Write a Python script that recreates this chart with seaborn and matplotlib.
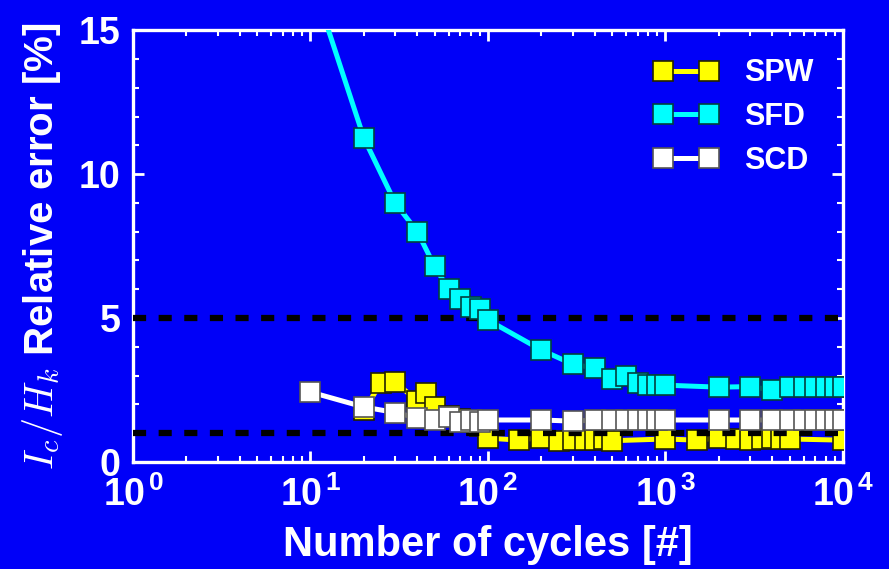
import numpy as np
import pandas as pd
import matplotlib
matplotlib.use("Agg")
import matplotlib.pyplot as plt
import seaborn as sns
from matplotlib.ticker import FuncFormatter, LogLocator, MultipleLocator, NullFormatter

# ---------------- data ----------------
spw_x = [20, 25, 30, 40, 45, 50, 60, 70, 80, 90,
         100, 150, 200, 250, 300, 350, 400, 450, 500,
         1000, 1500, 2000, 2500, 3000, 3500, 4000, 4500, 5000, 10000]
spw_y = [1.80, 2.75, 2.78, 2.12, 2.40, 1.90, 1.60, 1.50, 1.40, 1.25,
         0.83, 0.76, 0.85, 0.74, 0.78, 0.76, 0.76, 0.80, 0.74,
         0.80, 0.76, 0.83, 0.80, 0.78, 0.80, 0.85, 0.80, 0.80, 0.76]

sfd_x = [10, 20, 30, 40, 50, 60, 70, 80, 90, 100,
         200, 300, 400, 500, 600, 700, 800, 900, 1000,
         2000, 3000, 4000, 5000, 6000, 7000, 8000, 9000, 10000]
sfd_y = [16.9, 11.25, 9.0, 8.0, 6.8, 6.0, 5.66, 5.4, 5.3, 4.93,
         3.89, 3.40, 3.26, 2.88, 2.99, 2.74, 2.67, 2.67, 2.67,
         2.60, 2.62, 2.50, 2.60, 2.62, 2.62, 2.62, 2.62, 2.62]

scd_x = [10, 20, 30, 40, 50, 60, 70, 80, 90, 100,
         200, 300, 400, 500, 600, 700, 800, 900, 1000,
         2000, 3000, 4000, 5000, 6000, 7000, 8000, 9000, 10000]
scd_y = [2.43, 1.91, 1.72, 1.53, 1.46, 1.56, 1.40, 1.46, 1.40, 1.46,
         1.46, 1.42, 1.46, 1.46, 1.46, 1.46, 1.46, 1.46, 1.46,
         1.46, 1.46, 1.46, 1.46, 1.46, 1.46, 1.46, 1.46, 1.46]

series_names = ["SPW", "SFD", "SCD"]
threshold_levels = [5, 1]
y_ticks = [0, 5, 10, 15]

# ---------------- style ----------------
sns.set_style("ticks")
plt.rcParams["font.family"] = ["Liberation Sans", "DejaVu Sans"]
plt.rcParams["font.weight"] = "bold"
plt.rcParams["mathtext.fontset"] = "custom"
plt.rcParams["mathtext.rm"] = "Liberation Sans:bold"
plt.rcParams["mathtext.bf"] = "Liberation Sans:bold"
plt.rcParams["mathtext.it"] = "Liberation Serif:italic"

BG = "#0000f8"
fig = plt.figure(figsize=(8.89, 5.69), dpi=100, facecolor=BG)
ax = fig.add_axes([0.1496, 0.188, 0.7986, 0.759])
ax.set_facecolor(BG)

styles = {
    "SPW": dict(color="#ffff00", mec="#222200", z=3),
    "SFD": dict(color="#00ffff", mec="#004040", z=5),
    "SCD": dict(color="#ffffff", mec="#555555", z=5),
}
data = {"SPW": (spw_x, spw_y), "SFD": (sfd_x, sfd_y), "SCD": (scd_x, scd_y)}

for name in series_names:
    xs, ys = data[name]
    df = pd.DataFrame({"x": xs, "y": ys})
    st = styles[name]
    sns.lineplot(data=df, x="x", y="y", ax=ax, color=st["color"], marker="s",
                 markersize=14.5, markeredgecolor=st["mec"], markeredgewidth=1.2,
                 linewidth=3.6, zorder=st["z"], estimator=None, sort=True,
                 label=name)

for lvl in threshold_levels:
    ax.axhline(lvl, color="black", linewidth=4.5, linestyle=(0, (2.1, 2.0)), zorder=4)

ax.set_xscale("log")
ax.set_xlim(1, 1e4)
ax.set_ylim(0, 15)
ax.set_yticks(y_ticks)
ax.yaxis.set_minor_locator(MultipleLocator(1))
ax.xaxis.set_major_locator(LogLocator(base=10, numticks=10))
ax.xaxis.set_minor_locator(LogLocator(base=10, subs=np.arange(2, 10), numticks=20))
ax.xaxis.set_minor_formatter(NullFormatter())
ax.xaxis.set_major_formatter(FuncFormatter(lambda v, p: r"$\mathbf{10^{\,%d}}$" % round(np.log10(v))))

for s in ax.spines.values():
    s.set_color("white")
    s.set_linewidth(2.4)
ax.tick_params(which="both", direction="in", colors="white", top=True, right=True)
ax.tick_params(which="major", length=8, width=2, labelsize=27)
ax.tick_params(axis="x", which="major", pad=10)
ax.tick_params(axis="y", which="major", pad=9)
ax.tick_params(which="minor", length=4, width=1.5)
for lab in ax.get_xticklabels() + ax.get_yticklabels():
    lab.set_fontweight("bold")

ax.set_xlabel("Number of cycles [#]", color="white", fontsize=30, fontweight="bold", labelpad=8)
ax.set_ylabel(r"$I_c/H_k$ Relative error [%]", color="white", fontsize=29,
              fontweight="bold", labelpad=10, math_fontfamily="cm")

leg = ax.legend(loc="upper left", frameon=False, fontsize=22, numpoints=2,
                handlelength=2.1, handletextpad=0.85, labelspacing=0.45,
                borderaxespad=0.0, bbox_to_anchor=(0.717, 0.963))
for t in leg.get_texts():
    t.set_color("white")
    t.set_fontweight("bold")

fig.savefig("out.png", dpi=100, facecolor=BG)
